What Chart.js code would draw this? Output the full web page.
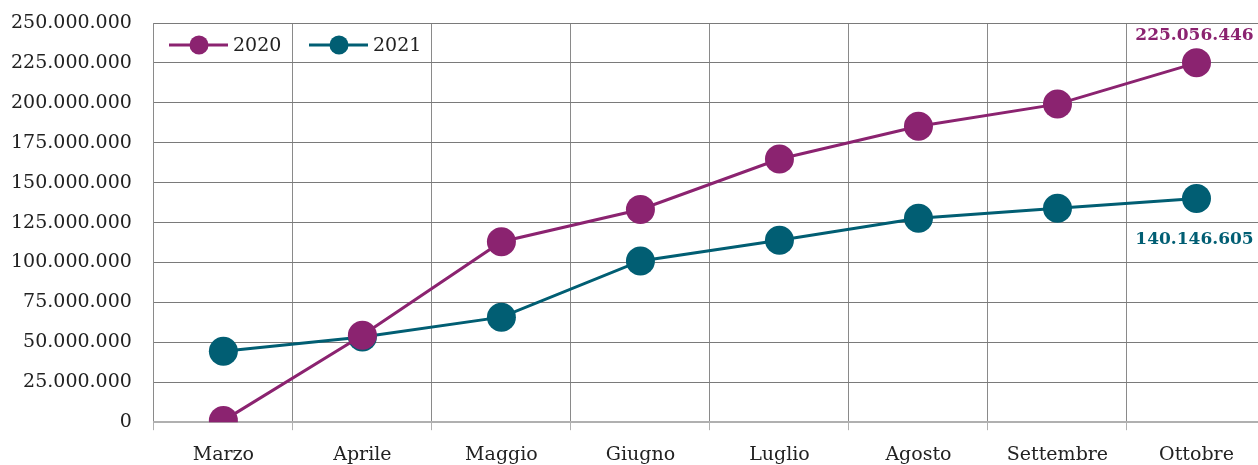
<!DOCTYPE html>
<html><head><meta charset="utf-8">
<script src="https://cdn.jsdelivr.net/npm/chart.js@4"></script>
<style>html,body{margin:0;padding:0;overflow:hidden;background:#fff}#wrap{width:1258px;height:465px;overflow:hidden;position:relative}canvas{display:block}</style>
</head><body><div id="wrap"><canvas id="c" width="1266" height="465"></canvas></div>
<script>
const categories = ['Marzo','Aprile','Maggio','Giugno','Luglio','Agosto','Settembre','Ottobre'];
const series2020 = [1000000, 54500000, 113000000, 133200000, 164800000, 185300000, 199200000, 225056446];
const series2021 = [44500000, 53300000, 65800000, 101000000, 114000000, 127700000, 134000000, 140146605];
const seriesNames = ['2020','2021'];
const yTicks = [0,25000000,50000000,75000000,100000000,125000000,150000000,175000000,200000000,225000000,250000000];
const colors = ['#8B2370','#015E73'];
const FONT = 'DejaVu Serif';

function fmt(v){ return Math.round(v).toString().replace(/\B(?=(\d{3})+(?!\d))/g,'.'); }

const overlay = {
  id:'overlay',
  afterDatasetsDraw(chart){
    const ctx = chart.ctx;
    ctx.save();
    const ly = 45;
    const items = [{x:169, name:seriesNames[0], c:colors[0]},{x:309, name:seriesNames[1], c:colors[1]}];
    items.forEach(it=>{
      ctx.strokeStyle = it.c; ctx.lineWidth = 3;
      ctx.beginPath(); ctx.moveTo(it.x, ly); ctx.lineTo(it.x+59, ly); ctx.stroke();
      ctx.fillStyle = it.c; ctx.beginPath(); ctx.arc(it.x+30, ly, 9.5, 0, Math.PI*2); ctx.fill();
      ctx.fillStyle = '#222'; ctx.font = '19px "'+FONT+'"'; ctx.textAlign='left'; ctx.textBaseline='middle';
      ctx.fillText(it.name, it.x+64, ly+1);
    });
    ctx.font = 'bold 17px "'+FONT+'"'; ctx.textAlign='center'; ctx.textBaseline='middle';
    const m0 = chart.getDatasetMeta(0).data, m1 = chart.getDatasetMeta(1).data;
    const l0 = m0[m0.length-1], l1 = m1[m1.length-1];
    ctx.fillStyle = colors[0]; ctx.fillText(fmt(series2020[series2020.length-1]), l0.x-2, l0.y-27);
    ctx.fillStyle = colors[1]; ctx.fillText(fmt(series2021[series2021.length-1]), l1.x-2, l1.y+41);
    ctx.restore();
  }
};

new Chart(document.getElementById('c'), {
  type:'line',
  data:{
    labels: categories,
    datasets:[
      {label:seriesNames[0], data:series2020, borderColor:colors[0], backgroundColor:colors[0], borderWidth:3, pointRadius:14.5, pointHoverRadius:14.5, pointBackgroundColor:colors[0], pointBorderWidth:0, tension:0},
      {label:seriesNames[1], data:series2021, borderColor:colors[1], backgroundColor:colors[1], borderWidth:3, pointRadius:14.5, pointHoverRadius:14.5, pointBackgroundColor:colors[1], pointBorderWidth:0, tension:0}
    ]
  },
  options:{
    responsive:false, animation:false,
    layout:{autoPadding:false, padding:{left:-11, right:0, top:23, bottom:-14}},
    plugins:{legend:{display:false}, tooltip:{enabled:false}},
    scales:{
      x:{
        offset:true,
        grid:{offset:true, color:'#8a8a8a', lineWidth:1, tickLength:8, tickColor:'#b0b0b0', drawTicks:true},
        border:{display:true, color:'#b0b0b0', width:2},
        ticks:{color:'#222', font:{family:FONT, size:19}, padding:13, maxRotation:0, autoSkip:false}
      },
      y:{
        min:0, max:250000000,
        afterBuildTicks(scale){ scale.ticks = yTicks.map(v=>({value:v})); },
        afterFit(scale){ scale.paddingTop = 0; scale.paddingBottom = 0; },
        grid:{color:'#7a7a7a', lineWidth:1, drawTicks:false},
        border:{display:false},
        ticks:{color:'#222', font:{family:FONT, size:19}, padding:22, callback:(v)=>fmt(v)}
      }
    }
  },
  plugins:[overlay]
});
</script></body></html>
